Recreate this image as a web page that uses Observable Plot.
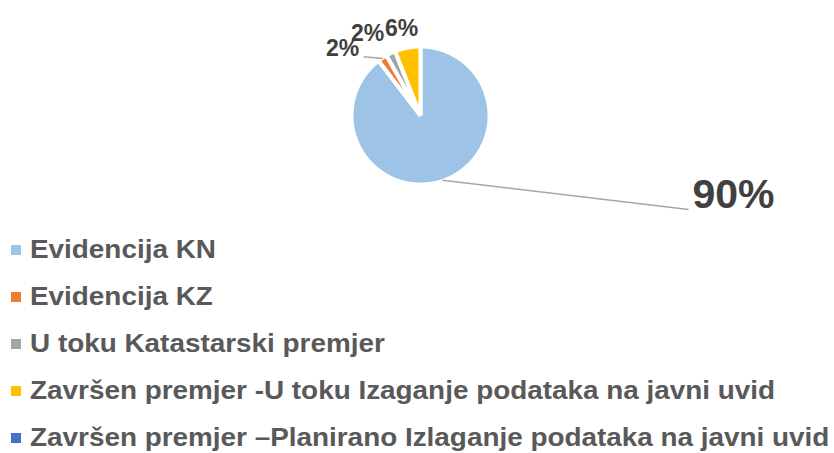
<!DOCTYPE html>
<html>
<head>
<meta charset="utf-8">
<script src="https://cdn.jsdelivr.net/npm/d3@7"></script>
<script src="https://cdn.jsdelivr.net/npm/@observablehq/plot@0.6"></script>
<style>
  html, body { margin: 0; padding: 0; background: #fff; }
  body { width: 834px; height: 453px; overflow: hidden; font-family: "Liberation Sans", Arial, sans-serif; }
  #legend { position: absolute; left: 0; top: 226px; }
  .row { position: relative; height: 47px; line-height: 47px; white-space: nowrap; font-size: 25px; font-weight: bold; color: #595959; }
  .sw { position: absolute; left: 11px; top: 19px; width: 10px; height: 10px; }
  .lbl { position: absolute; left: 30px; top: 0; transform: scaleX(1.115); transform-origin: 0 50%; }
</style>
</head>
<body>
<div id="chart"></div>
<div id="legend"></div>
<script>
// ---- data ----
const categories = [
  "Evidencija KN",
  "Evidencija KZ",
  "U toku Katastarski premjer",
  "Završen premjer -U toku Izaganje podataka na javni uvid",
  "Završen premjer –Planirano Izlaganje podataka na javni uvid"
];
const values = [89.6, 2.2, 2.2, 6.0, 0];
const colors = ["#9DC3E6", "#ED7D31", "#A5A5A5", "#FFC000", "#4472C4"];

// ---- layout (label placement in polar units: angle deg clockwise from north, radius in pie radii) ----
const labelAngle = [104.3, 310.5, 327, 347.6, null];
const labelRadius = [4.82, 1.53, 1.45, 1.32, null];
const labelSize = [41, 23, 23, 23, null];
const leaderEnd = [[109.3, 4.24], [316, 1.22], null, null, null];

const W = 834, H = 225, R = 67, CX = 420, CY = 115;
const total = d3.sum(values);
const pie = d3.pie().sort(null).value(d => d)(values);
const polar = (a, r) => ({x: Math.sin(a) * r, y: Math.cos(a) * r});

// polygon vertices for each slice
const slices = [];
pie.forEach((p, i) => {
  if (p.endAngle - p.startAngle <= 0) return;
  const rr = 1.03;
  slices.push({i, ...polar(0, 0), k: 0});
  const n = Math.max(4, Math.ceil((p.endAngle - p.startAngle) / 0.02));
  for (let j = 0; j <= n; j++) {
    const a = p.startAngle + (p.endAngle - p.startAngle) * j / n;
    slices.push({i, ...polar(a, rr), k: j + 1});
  }
});

const labels = pie.map((p, i) => {
  if (values[i] <= 0) return null;
  const a = labelAngle[i] * Math.PI / 180;
  return {i, text: Math.round(values[i] / total * 100) + "%", size: labelSize[i], ...polar(a, labelRadius[i])};
}).filter(Boolean);

const leaders = pie.map((p, i) => {
  if (!leaderEnd[i]) return null;
  const mid = (p.startAngle + p.endAngle) / 2;
  const s = polar(mid, 1.02);
  const e = polar(leaderEnd[i][0] * Math.PI / 180, leaderEnd[i][1]);
  return {x1: s.x, y1: s.y, x2: e.x, y2: e.y};
}).filter(Boolean);

const chart = Plot.plot({
  width: W, height: H,
  margin: 0,
  x: {type: "linear", domain: [-CX / R, (W - CX) / R], range: [0, W], axis: null},
  y: {type: "linear", domain: [-(H - CY) / R, CY / R], range: [H, 0], axis: null},
  marks: [
    Plot.line(slices, {x: "x", y: "y", z: "i", fill: d => colors[d.i], stroke: "#fff", strokeWidth: 4, curve: "linear-closed", strokeLinejoin: "miter"}),
    Plot.link(leaders, {x1: "x1", y1: "y1", x2: "x2", y2: "y2", stroke: "#a6a6a6", strokeWidth: 1.5}),
    ...labels.map(l => Plot.text([l], {x: "x", y: "y", text: "text", fontSize: l.size, fontWeight: "bold", fill: "#404040", fontFamily: "Liberation Sans, Arial, sans-serif"}))
  ]
});
document.getElementById("chart").appendChild(chart);

// legend
const lg = document.getElementById("legend");
categories.forEach((c, i) => {
  const row = document.createElement("div");
  row.className = "row";
  row.innerHTML = `<span class="sw" style="background:${colors[i]}"></span><span class="lbl"></span>`;
  row.querySelector(".lbl").textContent = c;
  lg.appendChild(row);
});
</script>
</body>
</html>
